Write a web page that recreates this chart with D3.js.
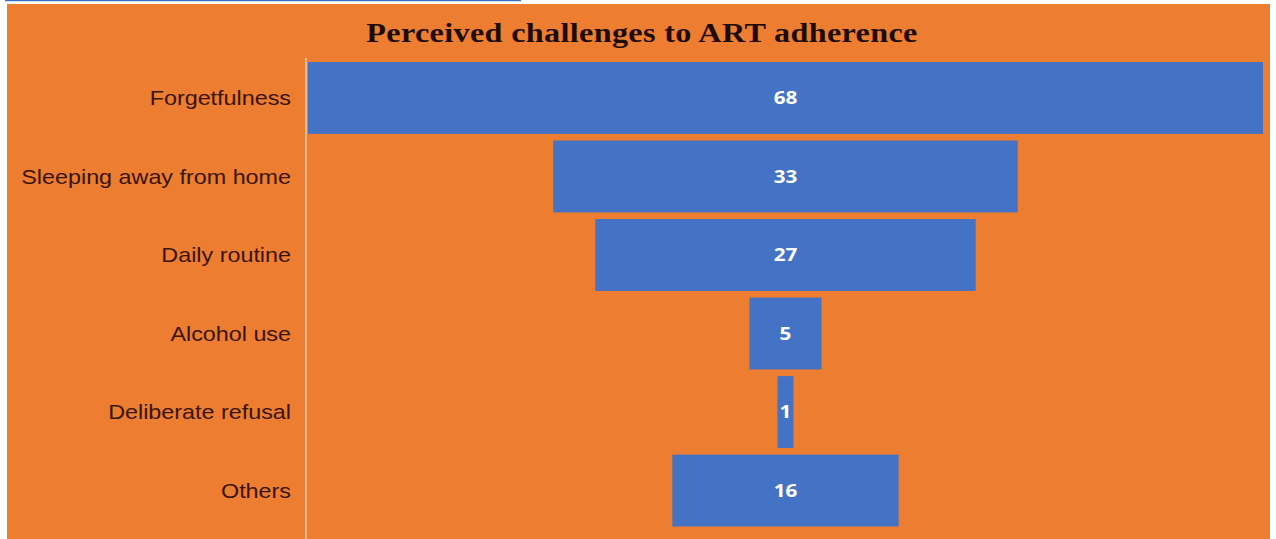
<!DOCTYPE html>
<html>
<head>
<meta charset="utf-8">
<script src="https://cdn.jsdelivr.net/npm/d3@7"></script>
<style>
  body { margin: 0; background: #ffffff; }
</style>
</head>
<body>
<div id="chart"></div>
<script>
// funnel data
var categories = ["Forgetfulness", "Sleeping away from home", "Daily routine", "Alcohol use", "Deliberate refusal", "Others"];
var values = [68, 33, 27, 5, 1, 16];
var title = "Perceived challenges to ART adherence";

var W = 1276, H = 539;
var stretch = 1.15;	// source picture is a bit wider than tall

var svg = d3.select("#chart").append("svg")
	.attr("width", W)
	.attr("height", H);

// link underline cut off at the top of the picture
svg.append("line")
	.attr("x1", 5).attr("x2", 521)
	.attr("y1", 0.5).attr("y2", 0.5)
	.style("stroke", "#3b6fc6")
	.style("stroke-width", 1.5);

// orange panel
svg.append("rect")
	.attr("x", 7).attr("y", 4)
	.attr("width", 1263).attr("height", H - 4)
	.style("fill", "#ed7d31");

svg.append("text")
	.attr("transform", "translate(642,42) scale(" + stretch + ",1)")
	.attr("text-anchor", "middle")
	.style("font", "bold 28px 'Liberation Serif', 'Times New Roman', serif")
	.style("letter-spacing", "0.3px")
	.style("fill", "#1e0c04")
	.text(title);

var plotLeft = 309, plotRight = 1262;
var center = (plotLeft + plotRight) / 2;

var xScale = d3.scaleLinear()
	.domain([0, d3.max(values)])
	.range([0, plotRight - plotLeft]);

var yScale = d3.scaleBand()
	.domain(categories)
	.range([58.5, 530])
	.paddingInner(0.085)
	.paddingOuter(0.045);

// vertical axis line
svg.append("line")
	.attr("x1", 306).attr("x2", 306)
	.attr("y1", 58).attr("y2", H)
	.style("stroke", "#f6b88c")
	.style("stroke-width", 2);

var rows = svg.selectAll(".row")
	.data(categories)
	.enter().append("g")
	.attr("class", "row");

rows.append("rect")
	.attr("x", function(d, i) { return center - xScale(values[i]) / 2 - 1; })
	.attr("y", function(d) { return yScale(d); })
	.attr("width", function(d, i) { return xScale(values[i]) + 2; })
	.attr("height", yScale.bandwidth())
	.style("fill", "#4472c4");

rows.append("text")
	.attr("transform", function(d) {
		return "translate(" + center + "," + (yScale(d) + yScale.bandwidth() / 2) + ") scale(" + stretch + ",1)";
	})
	.attr("dy", ".35em")
	.attr("text-anchor", "middle")
	.style("font", "bold 18px 'Open Sans', 'Liberation Sans', sans-serif")
	.style("fill", "#ffffff")
	.text(function(d, i) { return values[i]; });

rows.append("text")
	.attr("transform", function(d) {
		return "translate(291," + (yScale(d) + yScale.bandwidth() / 2) + ") scale(" + stretch + ",1)";
	})
	.attr("dy", ".35em")
	.attr("text-anchor", "end")
	.style("font", "20.3px 'Liberation Sans', Arial, sans-serif")
	.style("fill", "#3a1404")
	.text(function(d) { return d; });
</script>
</body>
</html>
